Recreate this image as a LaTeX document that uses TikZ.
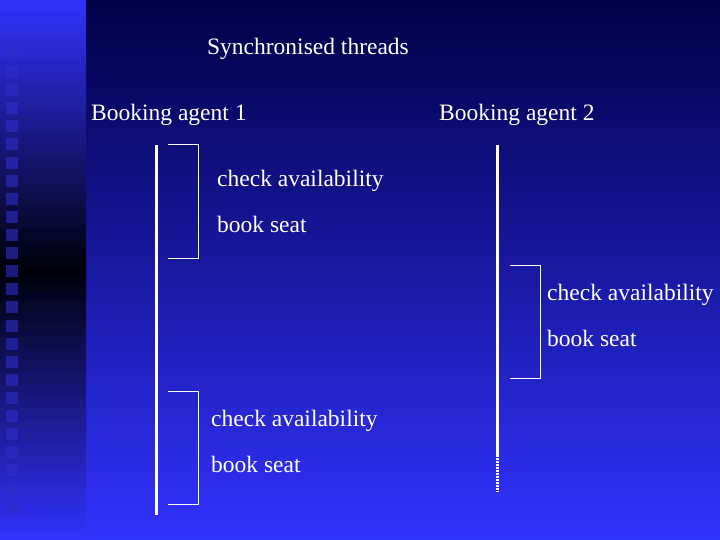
\documentclass[tikz,border=0pt]{standalone}
\usepackage{fontspec}
\setmainfont{Liberation Serif}
\newfontfamily\lser{Liberation Serif}
\definecolor{navy}{RGB}{0,0,70}
\definecolor{bright}{RGB}{50,50,255}
\definecolor{nearblack}{RGB}{0,0,10}
\definecolor{sq}{RGB}{45,45,200}
\begin{document}
\begin{tikzpicture}[x=1pt,y=-1pt,
  lbl/.style={text=white,font=\lser\fontsize{23.5}{28}\selectfont,anchor=west,inner sep=0pt},
  life/.style={draw=white,line width=3pt},
  brk/.style={draw=white,line width=1pt}]
\useasboundingbox (0,0) rectangle (720,540);
\shade[top color=navy,bottom color=bright] (86,0) rectangle (720,540);
\shade[top color=bright,bottom color=nearblack] (0,0) rectangle (86,270);
\shade[top color=nearblack,bottom color=bright] (0,270) rectangle (86,540);
\foreach \i in {0,...,25} {
  \fill[sq,opacity=0.6] (6,{48+\i*18.1}) rectangle (18,{60+\i*18.1});
}
\node[lbl,anchor=center] (title) at (308,49) {Synchronised threads};
\node[lbl] (a1) at (91,115) {Booking agent 1};
\node[lbl] (a2) at (439,115) {Booking agent 2};
\coordinate (l1t) at (156,145); \coordinate (l1b) at (156,515);
\coordinate (l2t) at (497,145); \coordinate (l2m) at (497,455); \coordinate (l2b) at (497,492);
\draw[life] (l1t) -- (l1b);
\draw[life] (l2t) -- (l2m);
\draw[white,line width=3pt,dash pattern=on 1.5pt off 1.5pt] (l2m) -- (l2b);
\coordinate (b1a) at (168,145); \coordinate (b1b) at (198,145); \coordinate (b1c) at (198,258); \coordinate (b1d) at (168,258);
\draw[brk] (b1a) -- (b1b) -- (b1c) -- (b1d);
\coordinate (b2a) at (510,265); \coordinate (b2b) at (540,265); \coordinate (b2c) at (540,378); \coordinate (b2d) at (510,378);
\draw[brk] (b2a) -- (b2b) -- (b2c) -- (b2d);
\coordinate (b3a) at (168,391); \coordinate (b3b) at (198,391); \coordinate (b3c) at (198,504); \coordinate (b3d) at (168,504);
\draw[brk] (b3a) -- (b3b) -- (b3c) -- (b3d);
\node[lbl] (c1) at (217,181) {check availability};
\node[lbl] (s1) at (217,224) {book seat};
\node[lbl] (c2) at (547,295) {check availability};
\node[lbl] (s2) at (547,338) {book seat};
\node[lbl] (c3) at (211,421) {check availability};
\node[lbl] (s3) at (211,464) {book seat};
\end{tikzpicture}
\end{document}
